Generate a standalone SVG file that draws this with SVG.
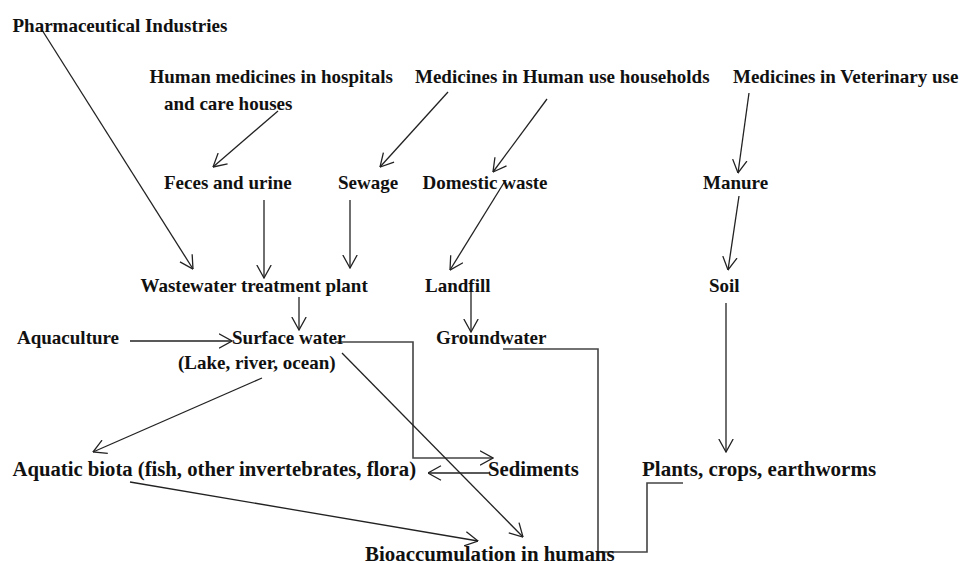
<svg xmlns="http://www.w3.org/2000/svg" width="960" height="563" viewBox="0 0 960 563">
<defs>
<marker id="arr" viewBox="0 0 14 16" refX="13.5" refY="8" markerWidth="14" markerHeight="16" markerUnits="userSpaceOnUse" orient="auto">
<path d="M0.5,0.8 L13.5,8 L0.5,15.2" fill="none" stroke="#222" stroke-width="1.3"/>
</marker>
<style>
text{font-family:"Liberation Serif","Times New Roman",serif;font-weight:bold;fill:#111;font-size:19px}
.big{font-size:20.7px}
.ln{fill:none;stroke:#222;stroke-width:1.3}
.el{fill:none;stroke:#444;stroke-width:1.6}
</style>
</defs>
<rect width="960" height="563" fill="#fff"/>
<g id="connectors">
<line class="ln" x1="42" y1="30" x2="193" y2="269" marker-end="url(#arr)"/>
<line class="ln" x1="278" y1="111" x2="213" y2="167" marker-end="url(#arr)"/>
<line class="ln" x1="448" y1="92" x2="380" y2="167" marker-end="url(#arr)"/>
<line class="ln" x1="547" y1="99" x2="493" y2="172" marker-end="url(#arr)"/>
<line class="ln" x1="505" y1="181" x2="450" y2="270" marker-end="url(#arr)"/>
<line class="ln" x1="471" y1="292" x2="471" y2="332" marker-end="url(#arr)"/>
<line class="ln" x1="749" y1="93" x2="738" y2="173" marker-end="url(#arr)"/>
<line class="ln" x1="739" y1="196" x2="728" y2="270" marker-end="url(#arr)"/>
<line class="ln" x1="726" y1="303" x2="726" y2="452" marker-end="url(#arr)"/>
<line class="ln" x1="264" y1="200" x2="264" y2="278" marker-end="url(#arr)"/>
<line class="ln" x1="350" y1="200" x2="350" y2="268" marker-end="url(#arr)"/>
<line class="ln" x1="299" y1="297" x2="299" y2="330" marker-end="url(#arr)"/>
<line class="ln" x1="130" y1="341" x2="232" y2="341" marker-end="url(#arr)"/>
<polyline class="el" points="335,342 413,342 413,458 493,458" marker-end="url(#arr)"/>
<line class="ln" x1="490" y1="473" x2="428" y2="473" marker-end="url(#arr)"/>
<line class="ln" x1="342" y1="353" x2="523" y2="537" marker-end="url(#arr)"/>
<line class="ln" x1="262" y1="378" x2="93" y2="452" marker-end="url(#arr)"/>
<line class="ln" x1="130" y1="482" x2="478" y2="541" marker-end="url(#arr)"/>
<polyline class="el" points="503,349 598,349 598,552 614,552"/>
<polyline class="el" points="683,483 647,483 647,552 614,552"/>
</g>
<g id="n-pharma"><text x="12.5" y="32">Pharmaceutical Industries</text></g>
<g id="n-hospitals"><text x="149.5" y="83">Human medicines in hospitals</text><text x="164" y="110">and care houses</text></g>
<g id="n-households"><text x="415" y="83">Medicines in Human use households</text></g>
<g id="n-veterinary"><text x="733" y="83">Medicines in Veterinary use</text></g>
<g id="n-feces"><text x="164" y="189">Feces and urine</text></g>
<g id="n-sewage"><text x="338" y="189">Sewage</text></g>
<g id="n-domestic"><text x="422.5" y="189">Domestic waste</text></g>
<g id="n-manure"><text x="703" y="189">Manure</text></g>
<g id="n-wwtp"><text x="140.5" y="292">Wastewater treatment plant</text></g>
<g id="n-landfill"><text x="425" y="292">Landfill</text></g>
<g id="n-soil"><text x="709" y="292">Soil</text></g>
<g id="n-aquaculture"><text x="17" y="344">Aquaculture</text></g>
<g id="n-surface"><text x="232" y="344">Surface water</text><text x="178" y="369">(Lake, river, ocean)</text></g>
<g id="n-groundwater"><text x="436" y="344">Groundwater</text></g>
<g id="n-biota"><text class="big" x="12.5" y="476">Aquatic biota (fish, other invertebrates, flora)</text></g>
<g id="n-sediments"><text class="big" x="488" y="476">Sediments</text></g>
<g id="n-plants"><text x="642" y="476" style="font-size:21px">Plants, crops, earthworms</text></g>
<g id="n-humans"><text x="365" y="561" style="font-size:20.9px">Bioaccumulation in humans</text></g>
</svg>
